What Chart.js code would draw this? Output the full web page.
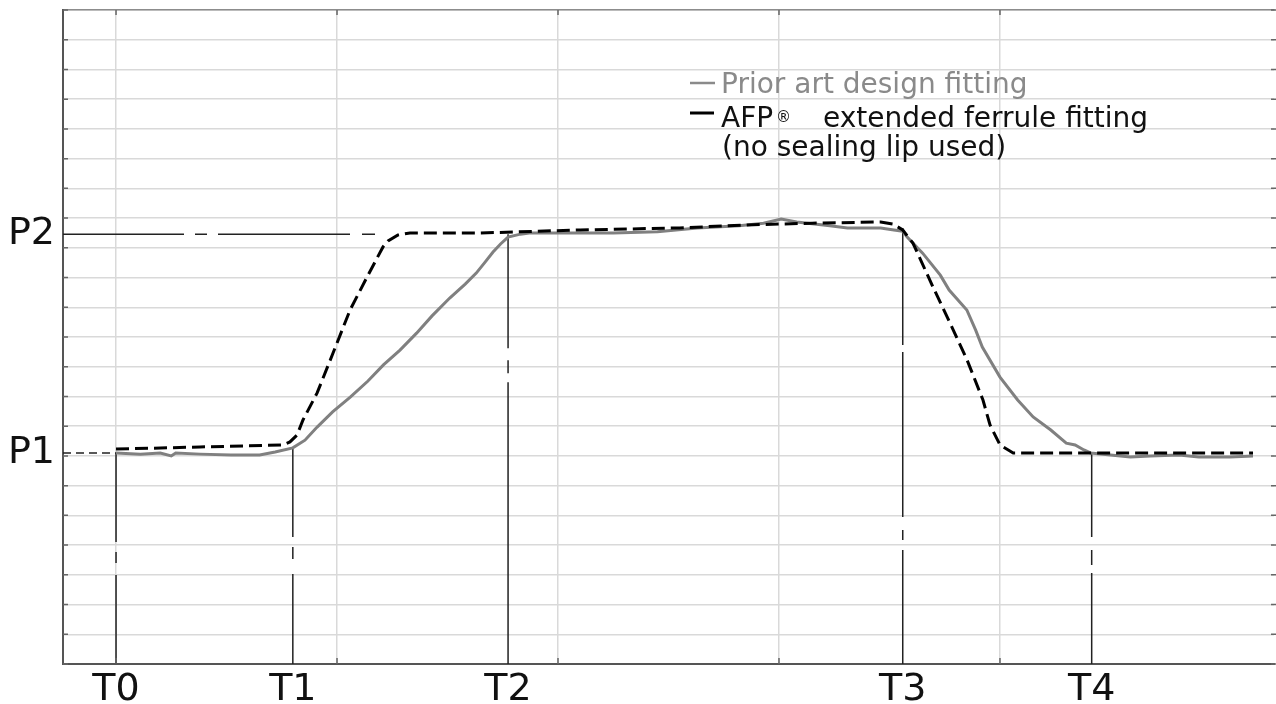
<!DOCTYPE html>
<html>
<head>
<meta charset="utf-8">
<script src="https://cdn.jsdelivr.net/npm/chart.js@4.4.1/dist/chart.umd.min.js"></script>
<style>
  html, body { margin: 0; padding: 0; background: #fff; }
  #c { display: block; }
</style>
</head>
<body>
<canvas id="c" width="1276" height="704"></canvas>
<script>
// axis ranges (time in arbitrary units, pressure in grid units)
const xMin = -2.4, xMax = 52.4;
const yMin = 0, yMax = 22;
const gridX = [0, 10, 20, 30, 40];
const gridY = [0, 1, 2, 3, 4, 5, 6, 7, 8, 9, 10, 11, 12, 13, 14, 15, 16, 17, 18, 19, 20, 21, 22];

// tick labels
const tLabels = ['T0', 'T1', 'T2', 'T3', 'T4'];
const tValues = [0, 8.0, 17.74, 35.6, 44.15];
const tTops = [7.1, 7.27, 14.46, 14.67, 7.1];
const pLabels = ['P1', 'P2'];
const pValues = [7.1, 14.46];

// series
const priorName = 'Prior art design fitting';
const priorX = [0, 1.1, 2.0, 2.5, 2.7, 3.8, 5.2, 6.5, 7.2, 8.0, 8.55, 9.1, 9.8, 10.6, 11.4, 12.1, 12.85, 13.6, 14.3, 15.1, 15.8, 16.3, 16.7, 17.06, 17.4, 17.74, 18.3, 18.7, 20.1, 22.5, 24.5, 26.3, 28.2, 29.3, 30.1, 30.8, 32.3, 33.1, 34.6, 35.2, 35.6, 35.8, 36.5, 37.3, 37.7, 38.5, 38.9, 39.2, 40.0, 40.8, 41.5, 42.3, 43.0, 43.4, 43.8, 44.1, 45.0, 45.9, 46.8, 48.1, 49.0, 50.4, 51.45];
const priorY = [7.1, 7.06, 7.1, 7.0, 7.1, 7.06, 7.03, 7.03, 7.13, 7.27, 7.53, 7.97, 8.48, 8.98, 9.52, 10.06, 10.56, 11.13, 11.71, 12.31, 12.78, 13.15, 13.52, 13.86, 14.13, 14.36, 14.46, 14.5, 14.5, 14.5, 14.54, 14.67, 14.74, 14.83, 14.97, 14.87, 14.74, 14.67, 14.67, 14.6, 14.56, 14.36, 13.82, 13.08, 12.58, 11.91, 11.23, 10.66, 9.65, 8.88, 8.31, 7.87, 7.43, 7.37, 7.2, 7.1, 7.03, 6.96, 7.0, 7.03, 6.96, 6.96, 7.0];

const afpName = ['AFP', '\u00AE', 'extended ferrule fitting', '(no sealing lip used)'];
const afpX = [0, 3.8, 7.56, 7.87, 8.19, 8.46, 9.1, 9.82, 10.59, 11.36, 12.08, 12.31, 12.76, 13.3, 16.5, 21.0, 25.5, 28.55, 31.5, 34.6, 35.16, 35.6, 36.06, 36.97, 37.74, 38.51, 39.23, 39.55, 40.0, 40.6, 51.45];
const afpY = [7.23, 7.3, 7.37, 7.47, 7.7, 8.21, 9.12, 10.46, 11.91, 13.02, 14.03, 14.23, 14.43, 14.5, 14.5, 14.6, 14.67, 14.77, 14.83, 14.87, 14.8, 14.6, 14.16, 12.68, 11.47, 10.23, 8.88, 8.04, 7.37, 7.1, 7.1];

const pts = (xs, ys) => xs.map((x, i) => ({ x: x, y: ys[i] }));

// dash-dot patterns of the marker lines (drawn from top down)
const tDash = [
  [89, 10, 11, 12, 999, 0],
  [89, 10, 12, 15, 999, 0],
  [114, 12, 13, 9, 999, 0],
  [117, 7, 165, 13, 10, 10, 999, 0],
  [84, 13, 15, 8, 999, 0]
];

const datasets = [
  {
    label: priorName,
    data: pts(priorX, priorY),
    borderColor: '#808080',
    borderWidth: 3,
    pointRadius: 0,
    tension: 0,
    order: 1
  },
  {
    label: afpName.join(' '),
    data: pts(afpX, afpY),
    borderColor: '#000',
    borderWidth: 3,
    borderDash: [13, 6],
    pointRadius: 0,
    tension: 0,
    order: 0
  }
];

tValues.forEach((t, i) => {
  datasets.push({
    label: tLabels[i],
    data: [{ x: t, y: tTops[i] }, { x: t, y: yMin }],
    borderColor: '#222',
    borderWidth: 1.5,
    borderDash: tDash[i],
    pointRadius: 0,
    order: 5
  });
});

datasets.push({
  label: 'P2 level',
  data: [{ x: xMin, y: pValues[1] }, { x: tValues[2], y: pValues[1] }],
  borderColor: '#222',
  borderWidth: 1.5,
  borderDash: [121, 11, 12, 11, 132, 12, 13, 999],
  pointRadius: 0,
  order: 5
});
datasets.push({
  label: 'P1 level',
  data: [{ x: xMin, y: pValues[0] }, { x: tValues[0], y: pValues[0] }],
  borderColor: '#222',
  borderWidth: 1.5,
  borderDash: [8, 5],
  pointRadius: 0,
  order: 5
});

// legend written inside the plot
const inlineLegend = {
  id: 'inlineLegend',
  afterDatasetsDraw(chart) {
    const ctx = chart.ctx;
    ctx.save();
    ctx.lineCap = 'butt';
    ctx.font = '28px "DejaVu Sans"';
    ctx.textBaseline = 'alphabetic';

    ctx.strokeStyle = '#8a8a8a';
    ctx.lineWidth = 2.5;
    ctx.beginPath(); ctx.moveTo(690, 83); ctx.lineTo(715, 83); ctx.stroke();
    ctx.fillStyle = '#8a8a8a';
    ctx.fillText(priorName, 721, 93);

    ctx.strokeStyle = '#000';
    ctx.lineWidth = 3;
    ctx.beginPath(); ctx.moveTo(690, 113); ctx.lineTo(714, 113); ctx.stroke();
    ctx.fillStyle = '#111';
    ctx.fillText(afpName[0], 721, 127);
    ctx.font = '15px "DejaVu Sans"';
    ctx.fillText(afpName[1], 776, 122);
    ctx.font = '28px "DejaVu Sans"';
    ctx.fillText(afpName[2], 823, 127);
    ctx.fillText(afpName[3], 722, 156);
    ctx.restore();
  }
};

// short tick marks on the frame
const frameTicks = {
  id: 'frameTicks',
  afterDraw(chart) {
    const ctx = chart.ctx;
    const a = chart.chartArea;
    const ys = chart.scales.y, xs = chart.scales.x;
    ctx.save();
    ctx.strokeStyle = '#666';
    ctx.lineWidth = 1.5;
    ctx.beginPath();
    gridY.forEach(v => {
      const p = ys.getPixelForValue(v);
      ctx.moveTo(a.left, p); ctx.lineTo(a.left + 5, p);
      ctx.moveTo(a.right - 3, p); ctx.lineTo(a.right + 2, p);
    });
    gridX.forEach(v => {
      const p = xs.getPixelForValue(v);
      ctx.moveTo(p, a.top); ctx.lineTo(p, a.top + 5);
      ctx.moveTo(p, a.bottom); ctx.lineTo(p, a.bottom - 6);
    });
    ctx.stroke();
    ctx.restore();
  }
};

const labelFont = { family: 'DejaVu Sans', size: 38 };

new Chart(document.getElementById('c'), {
  type: 'line',
  data: { datasets: datasets },
  options: {
    responsive: false,
    animation: false,
    devicePixelRatio: 1,
    layout: { padding: 0 },
    plugins: {
      legend: { display: false },
      tooltip: { enabled: false }
    },
    scales: {
      x: {
        type: 'linear',
        position: 'top',
        min: xMin, max: xMax,
        afterBuildTicks: s => { s.ticks = gridX.map(v => ({ value: v })); },
        afterFit: s => { s.height = 10; s.paddingLeft = 0; s.paddingRight = 0; },
        ticks: { display: false },
        grid: { color: '#d9d9d9', lineWidth: 1.5, drawTicks: false },
        border: { color: '#8c8c8c', width: 1.5 }
      },
      xT: {
        type: 'linear',
        position: 'bottom',
        min: xMin, max: xMax,
        afterBuildTicks: s => { s.ticks = tValues.map(v => ({ value: v })); },
        afterFit: s => { s.height = 40; s.paddingLeft = 0; s.paddingRight = 0; },
        ticks: {
          padding: 3,
          color: '#111',
          font: labelFont,
          maxRotation: 0,
          autoSkip: false,
          callback: (v, i) => tLabels[i]
        },
        grid: { display: false, drawTicks: false },
        border: { color: '#555', width: 2 }
      },
      y: {
        type: 'linear',
        position: 'right',
        min: yMin, max: yMax,
        afterBuildTicks: s => { s.ticks = gridY.map(v => ({ value: v })); },
        afterFit: s => { s.width = 2; s.paddingTop = 0; s.paddingBottom = 0; },
        ticks: { display: false },
        grid: { color: '#d9d9d9', lineWidth: 1.5, drawTicks: false },
        border: { display: false }
      },
      yP: {
        type: 'linear',
        position: 'left',
        min: yMin, max: yMax,
        afterBuildTicks: s => { s.ticks = pValues.map(v => ({ value: v })); },
        afterFit: s => { s.width = 63; s.paddingTop = 0; s.paddingBottom = 0; },
        ticks: {
          padding: 8,
          color: '#111',
          font: labelFont,
          autoSkip: false,
          callback: (v, i) => pLabels[i]
        },
        grid: { display: false, drawTicks: false },
        border: { color: '#555', width: 2 }
      }
    }
  },
  plugins: [inlineLegend, frameTicks]
});
</script>
</body>
</html>
